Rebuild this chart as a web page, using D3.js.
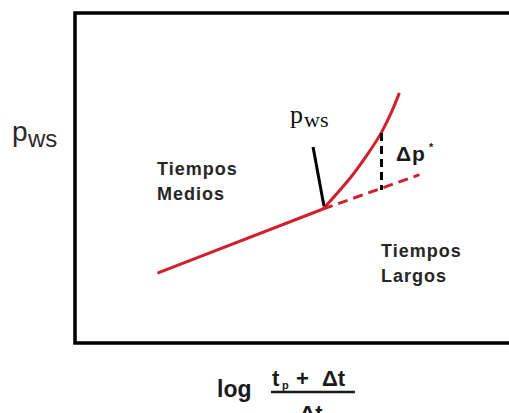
<!DOCTYPE html>
<html>
<head>
<meta charset="utf-8">
<script src="https://cdn.jsdelivr.net/npm/d3@7"></script>
<style>
  html, body { margin: 0; padding: 0; background: #fff; }
  svg { display: block; }
  .sans { font-family: "Liberation Sans", Arial, sans-serif; }
  .serif { font-family: "Liberation Serif", "Times New Roman", serif; }
</style>
</head>
<body>
<svg id="chart"></svg>
<script>
// chart units: both axes 0..10 inside the frame
const early_x = [1.89, 5.69]
const early_y = [2.12, 4.06]

const late_x = [5.69, 6.33, 6.70, 7.02, 7.25, 7.44]
const late_y = [4.06, 5.03, 5.70, 6.36, 6.97, 7.58]

const extrap_x = [5.69, 7.90]
const extrap_y = [4.06, 5.10]

const delta_x = [7.03, 7.03]
const delta_y = [6.36, 4.64]

const pointer_x = [5.46, 5.71]
const pointer_y = [5.94, 4.15]

const red = "#d21f2c"

const width = 509
const height = 413
const margin = { top: 13, right: -2, bottom: 70, left: 75 }

const svg = d3.select("#chart")
  .attr("width", width)
  .attr("height", height)

const x = d3.scaleLinear().domain([0, 10]).range([margin.left, width - margin.right])
const y = d3.scaleLinear().domain([0, 10]).range([height - margin.bottom, margin.top])

const zip = (xs, ys) => xs.map((v, i) => [v, ys[i]])

// frame (open on the right, runs off the picture)
svg.append("path")
  .attr("d", `M${x(10) + 5},${y(10)} H${x(0)} V${y(0)} H${x(10) + 5}`)
  .attr("fill", "none")
  .attr("stroke", "#000")
  .attr("stroke-width", 3.5)

const line = d3.line().x(d => x(d[0])).y(d => y(d[1]))
const smooth = d3.line().x(d => x(d[0])).y(d => y(d[1])).curve(d3.curveCatmullRom)

svg.append("path")
  .attr("d", line(zip(extrap_x, extrap_y)))
  .attr("fill", "none")
  .attr("stroke", red)
  .attr("stroke-width", 3)
  .attr("stroke-dasharray", "10,6")

svg.append("path")
  .attr("d", line(zip(early_x, early_y)))
  .attr("fill", "none")
  .attr("stroke", red)
  .attr("stroke-width", 3)

svg.append("path")
  .attr("d", smooth(zip(late_x, late_y)))
  .attr("fill", "none")
  .attr("stroke", red)
  .attr("stroke-width", 3)

svg.append("path")
  .attr("d", line(zip(delta_x, delta_y)))
  .attr("fill", "none")
  .attr("stroke", "#000")
  .attr("stroke-width", 3)
  .attr("stroke-dasharray", "8,5")

svg.append("path")
  .attr("d", line(zip(pointer_x, pointer_y)))
  .attr("fill", "none")
  .attr("stroke", "#000")
  .attr("stroke-width", 3)

// y axis title
const ylab = svg.append("text").attr("class", "sans").attr("fill", "#2a2a2a")
ylab.append("tspan").attr("x", 12).attr("y", 141).attr("font-size", 28).text("p")
ylab.append("tspan").attr("x", 28).attr("y", 147).attr("font-size", 24).text("ws")

// pws callout
const pws = svg.append("text").attr("class", "serif").attr("fill", "#111")
pws.append("tspan").attr("x", 290).attr("y", 123).attr("font-size", 26).text("p")
pws.append("tspan").attr("x", 304).attr("y", 127).attr("font-size", 22).text("ws")

// delta p*
const dp = svg.append("text").attr("class", "sans").attr("fill", "#1a1a1a").attr("font-weight", "bold")
dp.append("tspan").attr("x", 396).attr("y", 161).attr("font-size", 21).text("\u0394")
dp.append("tspan").attr("x", 412).attr("y", 161).attr("font-size", 21).text("p")
dp.append("tspan").attr("x", 429).attr("y", 151).attr("font-size", 11).text("*")

function label(lines, x0, y0){
  const t = svg.append("text")
    .attr("class", "sans")
    .attr("font-weight", "bold")
    .attr("font-size", 18)
    .attr("letter-spacing", 1)
    .attr("fill", "#262626")
  lines.forEach((s, i) => t.append("tspan").attr("x", x0).attr("y", y0 + i * 25).text(s))
}
label(["Tiempos", "Medios"], 157, 175)
label(["Tiempos", "Largos"], 381, 257)

// x axis title: log (tp + Δt) / Δt
const xt = svg.append("g").attr("class", "sans").attr("fill", "#1a1a1a").attr("font-weight", "bold")
xt.append("text").attr("x", 217).attr("y", 397).attr("font-size", 23).text("log")
const num = xt.append("text").attr("y", 386).attr("font-size", 22)
num.append("tspan").attr("x", 272).text("t")
num.append("tspan").attr("x", 282).attr("y", 389).attr("font-size", 11).text("p")
num.append("tspan").attr("x", 296).attr("y", 386).text("+")
num.append("tspan").attr("x", 322).text("\u0394t")
xt.append("line")
  .attr("x1", 271).attr("x2", 355)
  .attr("y1", 392).attr("y2", 392)
  .attr("stroke", "#1a1a1a").attr("stroke-width", 2.5)
xt.append("text").attr("x", 311).attr("y", 421).attr("font-size", 22).attr("text-anchor", "middle").text("\u0394t")
</script>
</body>
</html>
